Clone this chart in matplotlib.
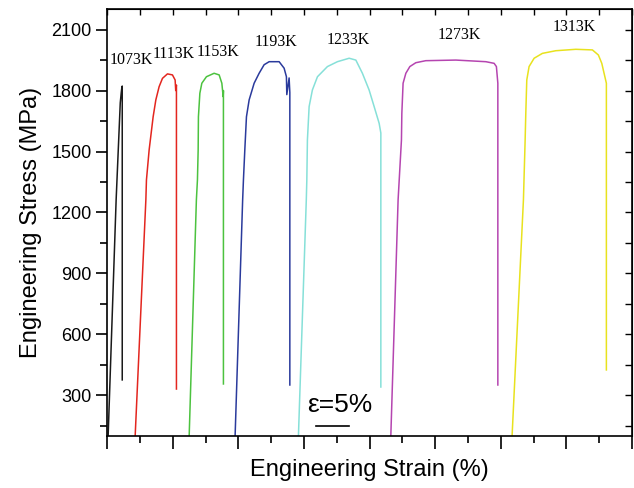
import numpy as np
import matplotlib.pyplot as plt
from matplotlib.ticker import MultipleLocator, NullFormatter

# temperatures and curve colours
temps = ["1073K", "1113K", "1153K", "1193K", "1233K", "1273K", "1313K"]
colors = ["#1a1a1a", "#e3261f", "#4cc23f", "#2a3a9c", "#86e0d8", "#b545b0", "#e8e21e"]

# engineering strain (%) / stress (MPa) (curves are offset along x)
strain_1073 = [0.15, 1.37, 2.0, 2.15, 2.24, 2.3, 2.3]
stress_1073 = [100, 1262, 1740, 1790, 1815, 1822, 376]
strain_1113 = [4.27, 5.9, 5.99, 6.4, 7.01, 7.42, 7.92, 8.43, 9.19, 9.95, 10.36, 10.45, 10.56, 10.56]
stress_1113 = [100, 1262, 1360, 1508, 1671, 1754, 1819, 1860, 1882, 1877, 1852, 1800, 1827, 331]
strain_1153 = [12.5, 13.6, 13.76, 13.87, 13.91, 14.13, 14.43, 15.13, 16.3, 17.07, 17.48, 17.68, 17.72, 17.72]
stress_1153 = [100, 1262, 1360, 1508, 1671, 1787, 1836, 1868, 1885, 1877, 1836, 1770, 1800, 356]
strain_1193 = [19.5, 20.65, 20.77, 20.98, 21.23, 21.64, 22.4, 23.16, 23.92, 24.69, 26.21,
               26.97, 27.32, 27.38, 27.73, 27.84, 27.84]
stress_1193 = [100, 1262, 1360, 1508, 1671, 1754, 1836, 1885, 1927, 1942, 1942,
               1910, 1868, 1780, 1862, 1790, 351]
strain_1233 = [29.15, 30.35, 30.43, 30.52, 30.78, 31.28, 32.05, 33.57, 35.09, 36.88, 37.9,
               38.9, 39.92, 40.69, 41.45, 41.71, 41.71]
stress_1233 = [100, 1262, 1360, 1557, 1721, 1803, 1868, 1918, 1942, 1959, 1950,
               1885, 1803, 1721, 1639, 1591, 341]
strain_1273 = [43.23, 44.34, 44.85, 44.91, 45.1, 45.52, 46.13, 47.04, 48.56, 53.14, 57.71,
               58.97, 59.32, 59.54, 59.54]
stress_1273 = [100, 1262, 1557, 1688, 1836, 1885, 1918, 1937, 1947, 1950, 1942,
               1934, 1918, 1836, 351]
strain_1313 = [61.71, 63.44, 63.7, 63.8, 63.95, 64.3, 65.07, 66.33, 68.37, 71.42, 73.95,
               74.86, 75.38, 75.73, 76.08, 76.08]
stress_1313 = [100, 1262, 1557, 1688, 1852, 1918, 1959, 1983, 1996, 2003, 2000,
               1975, 1934, 1885, 1836, 425]

strains = [strain_1073, strain_1113, strain_1153, strain_1193, strain_1233, strain_1273, strain_1313]
stresses = [stress_1073, stress_1113, stress_1153, stress_1193, stress_1233, stress_1273, stress_1313]

# label anchor points (strain, stress)
label_x = [3.66, 10.08, 16.95, 25.8, 36.8, 53.66, 71.15]
label_y = [1950, 1980, 1990, 2039, 2049, 2074, 2113]

fig = plt.figure(figsize=(6.34, 4.88), dpi=100)
ax = fig.add_axes([0.169, 0.1066, 0.828, 0.8744])

for s, e, c in zip(strains, stresses, colors):
    ax.plot(s, e, color=c, lw=1.1)

for t, lx, ly in zip(temps, label_x, label_y):
    ax.text(lx, ly, t, family="Liberation Serif", fontsize=11.5,
            ha="center", va="center")

# scale bar
ax.text(35.4, 253, "\u03b5=5%", family="Liberation Sans", fontsize=19,
        ha="center", va="center")
ax.plot([31.8, 36.8], [151, 151], color="black", lw=1.2)

ax.set_xlim(0, 80)
ax.set_ylim(100, 2200)
ax.xaxis.set_major_locator(MultipleLocator(10))
ax.xaxis.set_minor_locator(MultipleLocator(5))
ax.xaxis.set_major_formatter(NullFormatter())
ax.yaxis.set_major_locator(MultipleLocator(300))
ax.yaxis.set_minor_locator(MultipleLocator(150))

ax.tick_params(axis="x", which="major", direction="out", length=9, width=1.2, top=False)
ax.tick_params(axis="x", which="minor", direction="out", length=5, width=1.2, top=False)
ax.tick_params(axis="y", which="major", direction="out", length=8, width=1.2,
               labelsize=13, pad=3)
ax.tick_params(axis="y", which="minor", direction="out", length=5, width=1.2)
for lab in ax.get_yticklabels():
    lab.set_family("Liberation Sans")

# inward ticks on the top and right spines
sec_x = ax.secondary_xaxis("top")
sec_x.xaxis.set_major_locator(MultipleLocator(10))
sec_x.xaxis.set_minor_locator(MultipleLocator(5))
sec_x.tick_params(which="both", direction="in", length=4, width=1.0, labeltop=False)
sec_y = ax.secondary_yaxis("right")
sec_y.yaxis.set_major_locator(MultipleLocator(300))
sec_y.yaxis.set_minor_locator(MultipleLocator(150))
sec_y.tick_params(which="both", direction="in", length=5, width=1.0, labelright=False)

for sp in ax.spines.values():
    sp.set_linewidth(1.2)

ax.set_xlabel("Engineering Strain (%)", family="Liberation Sans", fontsize=17, labelpad=4)
ax.set_ylabel("Engineering Stress (MPa)", family="Liberation Sans", fontsize=17, labelpad=7)

plt.savefig("out.png", dpi=100)
